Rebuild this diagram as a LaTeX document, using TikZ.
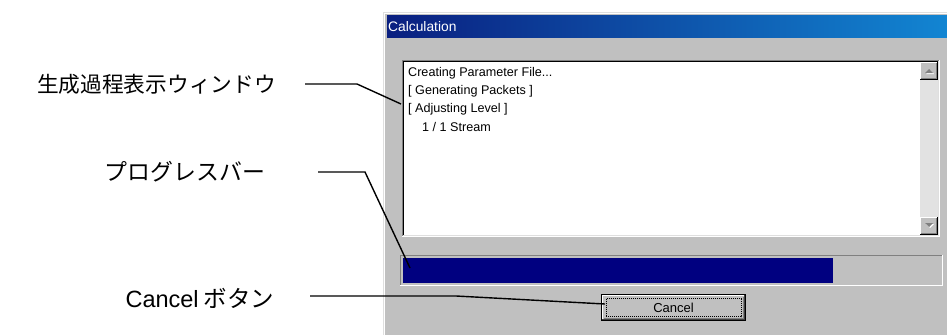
\documentclass[tikz,border=0pt]{standalone}
\usepackage{fontspec}
\setmainfont{Liberation Sans}
\newfontfamily\jpfont{Noto Sans CJK JP}

\definecolor{winface}{HTML}{C0C0C0}
\definecolor{winshadow}{HTML}{808080}
\definecolor{windark}{HTML}{404040}
\definecolor{winlight}{HTML}{DFDFDF}
\definecolor{titleL}{HTML}{0A1F80}
\definecolor{titleR}{HTML}{1285D2}
\definecolor{progress}{HTML}{000080}
\definecolor{track}{HTML}{E2E2E2}

\tikzset{
  callout/.style={line width=1.4pt, black},
  calllabel/.style={font=\jpfont\fontsize{22}{26}\selectfont, inner sep=0pt},
  listtext/.style={font=\fontsize{12.6}{15}\selectfont, anchor=west, inner sep=0pt},
}

\begin{document}
\begin{tikzpicture}[x=1pt,y=-1pt]
\useasboundingbox (0,0) rectangle (947,335);
\fill[white] (0,0) rectangle (947,335);

% dialog body and outer frame
\fill[winface] (383,12) rectangle (947,335);
\draw[winlight] (383.5,335) -- (383.5,12.5) -- (947,12.5);
\draw[white] (384.5,335) -- (384.5,13.5) -- (947,13.5);

% title bar
\shade[left color=titleL, right color=titleR] (387,15) rectangle (947,37);
\node[anchor=west, text=white, font=\fontsize{13.8}{16}\selectfont, inner sep=0pt] (title) at (388,26.5) {Calculation};

% log text box (sunken)
\fill[white] (402,60) rectangle (940,237);
\draw[winshadow] (402.5,237) -- (402.5,60.5) -- (940,60.5);
\draw[black] (403.5,236) -- (403.5,61.5) -- (939,61.5);
\draw[white] (402,236.5) -- (939.5,236.5) -- (939.5,60);
\draw[winlight] (403,235.5) -- (938.5,235.5) -- (938.5,61);

\node[listtext] (line1) at (408,73) {Creating Parameter File...};
\node[listtext] (line2) at (408,91) {[ Generating Packets ]};
\node[listtext] (line3) at (408,109) {[ Adjusting Level ]};
\node[listtext] (line4) at (422,127) {1 / 1 Stream};

% vertical scrollbar
\fill[track] (920,62) rectangle (938,235);
\foreach \ya/\yb in {62/80, 217/235} {
  \fill[winface] (920,\ya) rectangle (938,\yb);
  \draw[white] (920.5,\yb-1) -- (920.5,\ya+0.5) -- (937,\ya+0.5);
  \draw[black] (920,\yb-0.5) -- (937.5,\yb-0.5) -- (937.5,\ya);
  \draw[winshadow] (921,\yb-1.5) -- (936.5,\yb-1.5) -- (936.5,\ya+1);
}
\fill[white] (926,74) -- (934,74) -- (930,70) -- cycle;
\fill[winshadow] (925,73) -- (933,73) -- (929,69) -- cycle;
\fill[white] (926,224) -- (934,224) -- (930,228) -- cycle;
\fill[winshadow] (925,223) -- (933,223) -- (929,227) -- cycle;

% progress bar
\draw[winshadow] (400.5,286) -- (400.5,255.5) -- (943,255.5);
\draw[white] (400,285.5) -- (942.5,285.5) -- (942.5,255);
\fill[progress] (403,258) rectangle (833,283);

% Cancel button (default button with focus rectangle)
\fill[winface] (601,294) rectangle (746,321);
\draw[black] (601.5,294.5) rectangle (745.5,320.5);
\draw[white] (602.5,319) -- (602.5,295.5) -- (744,295.5);
\draw[windark] (602,319.5) -- (744.5,319.5) -- (744.5,295);
\draw[winshadow] (603.5,318.5) -- (743.5,318.5) -- (743.5,296.5);
\draw[black, line width=0.8pt, dash pattern=on 1pt off 1pt] (606,298.5) rectangle (741,316.5);
\node[font=\fontsize{13}{15}\selectfont, inner sep=0pt] (cancelbtn) at (673.5,307.5) {Cancel};

% callout labels
\node[calllabel, font=\jpfont\fontsize{21.7}{26}\selectfont] (lblwin) at (156.5,84) {生成過程表示ウィンドウ};
\node[calllabel, font=\jpfont\fontsize{22.9}{26}\selectfont] (lblbar) at (185,172) {プログレスバー};
\node[calllabel, font=\jpfont\fontsize{23.5}{27}\selectfont] (lblbtn) at (200,298) {{\fontspec{Liberation Sans}Cancel} ボタン};

% callout leaders
\coordinate (s1) at (305,84);  \coordinate (k1) at (357,84);  \coordinate (t1) at (401,104);
\coordinate (s2) at (318,172); \coordinate (k2) at (365,172); \coordinate (t2) at (410,268);
\coordinate (s3) at (310,296); \coordinate (k3) at (456,296); \coordinate (t3) at (605,304);
\draw[callout] (s1) -- (k1) -- (t1);
\draw[callout] (s2) -- (k2) -- (t2);
\draw[callout] (s3) -- (k3) -- (t3);
\end{tikzpicture}
\end{document}
